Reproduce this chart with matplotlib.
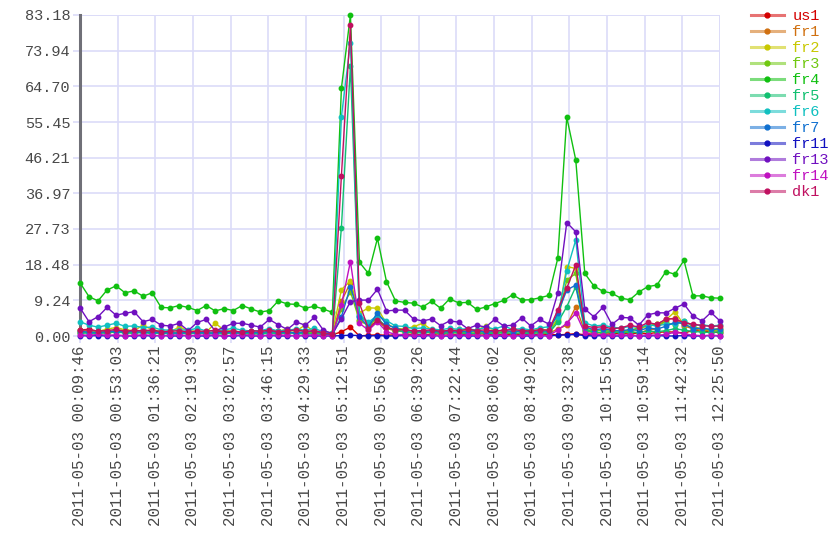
import matplotlib
matplotlib.use('Agg')
import matplotlib.pyplot as plt
from matplotlib.lines import Line2D
import numpy as np

# 横轴标签 (每 18 个刻度一个)
tick_labels = ['2011-05-03 00:09:46', '2011-05-03 00:53:03', '2011-05-03 01:36:21',
               '2011-05-03 02:19:39', '2011-05-03 03:02:57', '2011-05-03 03:46:15',
               '2011-05-03 04:29:33', '2011-05-03 05:12:51', '2011-05-03 05:56:09',
               '2011-05-03 06:39:26', '2011-05-03 07:22:44', '2011-05-03 08:06:02',
               '2011-05-03 08:49:20', '2011-05-03 09:32:38', '2011-05-03 10:15:56',
               '2011-05-03 10:59:14', '2011-05-03 11:42:32', '2011-05-03 12:25:50']

names = ['us1', 'fr1', 'fr2', 'fr3', 'fr4', 'fr5', 'fr6', 'fr7', 'fr11', 'fr13', 'fr14', 'dk1']
colors = ['#d40000', '#d07010', '#c8c800', '#70c810', '#10c010', '#10c070',
          '#10c0c0', '#1070d0', '#1010c0', '#7010c0', '#c010c0', '#c01060']

us1 = [1.6, 1.7, 1.2, 1.0, 1.3, 1.6, 1.1, 1.5, 1.3, 1.2,
       0.9, 0.8, 1.2, 1.0, 0.8, 1.1, 1.3, 0.9, 0.8, 1.0,
       0.9, 1.1, 1.2, 0.8, 1.0, 0.9, 0.7, 0.5, 0.3, 1.1,
       2.3, 0.0, 0.2, 0.3, 0.2, 0.3, 0.4, 0.5, 0.3, 0.4,
       0.6, 0.5, 0.3, 0.4, 0.6, 0.5, 0.4, 0.3, 0.5, 0.4,
       0.3, 0.5, 0.4, 0.3, 0.4, 0.6, 0.3, 0.5, 0.4, 0.6,
       0.7, 0.5, 0.8, 0.6, 0.9, 1.1, 1.0, 0.8, 1.4, 1.3,
       1.0, 0.9]
fr1 = [0.8, 1.0, 0.9, 0.7, 1.1, 0.9, 0.8, 1.2, 0.7, 0.9,
       0.6, 0.7, 0.8, 0.9, 0.6, 0.8, 0.7, 0.9, 0.6, 0.5,
       0.7, 0.8, 0.6, 0.9, 0.7, 0.6, 0.8, 0.5, 0.3, 9.0,
       13.8, 4.2, 2.6, 3.8, 2.0, 1.3, 1.1, 0.9, 1.0, 0.8,
       0.7, 0.9, 0.8, 0.6, 0.8, 0.7, 0.9, 0.8, 0.6, 0.7,
       0.9, 0.8, 0.7, 1.8, 2.8, 7.6, 1.2, 0.9, 0.8, 1.0,
       0.9, 1.1, 0.8, 1.5, 1.9, 4.3, 4.6, 2.7, 1.8, 1.5,
       1.4, 1.2]
fr2 = [1.5, 1.3, 1.2, 1.8, 2.2, 1.6, 1.4, 2.8, 1.6, 1.3,
       1.1, 2.3, 1.4, 1.2, 1.0, 3.3, 1.5, 1.2, 1.1, 1.3,
       1.4, 1.6, 1.2, 1.9, 1.3, 2.9, 1.0, 1.2, 0.8, 12.0,
       14.3, 5.9, 7.3, 7.2, 3.2, 2.0, 1.8, 2.4, 3.3, 1.6,
       1.2, 1.4, 1.7, 1.3, 1.5, 2.6, 1.4, 1.2, 1.0, 1.6,
       1.3, 1.8, 1.5, 4.5, 18.0, 17.5, 2.0, 1.6, 1.4, 1.2,
       1.5, 1.3, 1.9, 2.6, 3.1, 4.2, 6.3, 2.9, 2.2, 1.8,
       1.6, 2.0]
fr3 = [1.0, 0.9, 1.1, 1.3, 1.2, 1.0, 0.9, 1.4, 1.1, 0.8,
       0.9, 1.0, 0.8, 1.1, 0.9, 0.8, 1.0, 1.2, 0.9, 0.8,
       0.7, 1.0, 0.9, 1.1, 0.8, 1.0, 0.9, 0.7, 0.4, 7.0,
       11.5, 4.0, 2.8, 4.5, 2.2, 1.5, 1.2, 1.1, 1.3, 1.0,
       0.9, 1.1, 1.0, 0.8, 1.2, 1.0, 0.9, 1.1, 1.3, 1.0,
       0.9, 1.2, 1.0, 4.0, 14.5, 16.2, 1.6, 1.3, 1.5, 1.2,
       1.0, 1.4, 2.2, 2.6, 3.2, 3.5, 2.8, 4.0, 2.4, 1.8,
       1.6, 1.5]
fr4 = [13.8, 10.2, 9.1, 11.9, 13.0, 11.2, 11.7, 10.3, 11.2, 7.4,
       7.3, 7.9, 7.4, 6.6, 7.9, 6.5, 7.1, 6.6, 7.9, 7.0,
       6.2, 6.6, 9.1, 8.3, 8.2, 7.2, 7.7, 7.0, 6.1, 64.2,
       83.18, 19.1, 16.2, 25.3, 14.1, 9.1, 8.7, 8.5, 7.5, 9.0,
       7.2, 9.6, 8.6, 8.7, 6.9, 7.5, 8.4, 9.2, 10.7, 9.3,
       9.4, 9.9, 10.5, 20.1, 56.7, 45.6, 16.2, 13.0, 11.6, 11.1,
       9.8, 9.4, 11.4, 12.8, 13.2, 16.7, 16.0, 19.6, 10.4, 10.4,
       9.9, 9.8]
fr5 = [0.7, 0.8, 0.6, 0.9, 1.0, 0.8, 0.7, 0.9, 0.6, 0.8,
       0.5, 0.7, 0.6, 0.8, 0.7, 0.5, 0.6, 0.8, 0.7, 0.6,
       0.5, 0.7, 0.6, 0.8, 0.7, 0.5, 0.6, 0.4, 0.2, 28.1,
       70.0, 5.2, 3.4, 4.6, 2.3, 1.4, 1.1, 0.9, 0.8, 1.0,
       0.7, 0.8, 0.9, 0.6, 0.7, 0.8, 0.6, 0.9, 0.7, 0.8,
       0.6, 0.9, 0.7, 3.5, 7.6, 12.8, 1.5, 1.0, 0.9, 1.1,
       0.8, 1.0, 0.9, 1.3, 1.1, 1.4, 1.9, 1.5, 1.2, 1.0,
       0.9, 1.1]
fr6 = [3.7, 2.8, 2.3, 2.8, 3.3, 2.5, 2.6, 2.2, 2.3, 1.6,
       1.5, 1.6, 1.5, 2.0, 1.3, 1.4, 1.6, 2.0, 1.5, 1.3,
       1.4, 1.9, 1.3, 1.5, 1.8, 1.5, 2.0, 1.0, 0.8, 56.8,
       76.0, 5.5, 3.6, 5.3, 4.0, 2.6, 2.5, 1.9, 2.1, 1.8,
       1.6, 2.0, 1.7, 1.9, 1.5, 2.3, 1.8, 2.6, 1.7, 1.9,
       1.6, 2.1, 2.4, 5.0, 16.9, 24.9, 3.4, 2.6, 2.8, 2.3,
       2.0, 2.5, 2.2, 2.9, 2.6, 3.1, 3.0, 3.9, 2.7, 2.9,
       2.6, 2.8]
fr7 = [1.2, 1.0, 0.9, 1.1, 1.3, 1.0, 1.2, 0.9, 1.1, 0.8,
       0.9, 0.7, 1.0, 0.8, 0.9, 0.7, 1.1, 0.8, 0.9, 1.0,
       0.8, 1.2, 0.9, 1.0, 0.8, 1.1, 1.3, 0.6, 0.3, 5.0,
       12.8, 5.0, 2.4, 6.0, 3.0, 2.0, 1.5, 1.3, 1.1, 1.4,
       1.0, 1.2, 1.3, 1.1, 1.4, 1.0, 1.2, 1.5, 1.1, 1.3,
       1.0, 1.4, 1.2, 5.9, 11.9, 13.2, 2.4, 1.6, 1.9, 1.5,
       1.3, 1.7, 1.4, 2.1, 1.8, 2.5, 3.6, 3.2, 1.9, 2.0,
       1.7, 1.8]
fr11 = [0.1, 0.0, 0.1, 0.0, 0.1, 0.0, 0.0, 0.1, 0.0, 0.1,
        0.0, 0.0, 0.1, 0.0, 0.0, 0.1, 0.0, 0.0, 0.1, 0.0,
        0.0, 0.1, 0.0, 0.0, 0.1, 0.0, 0.0, 0.0, 0.0, 0.1,
        0.2, 0.1, 0.0, 0.1, 0.0, 0.0, 0.1, 0.0, 0.0, 0.1,
        0.0, 0.0, 0.1, 0.0, 0.0, 0.1, 0.0, 0.0, 0.1, 0.0,
        0.0, 0.1, 0.0, 0.2, 0.3, 0.4, 0.1, 0.0, 0.1, 0.0,
        0.0, 0.1, 0.0, 0.0, 0.1, 0.0, 0.0, 0.1, 0.0, 0.0,
        0.1, 0.0]
fr13 = [7.3, 3.7, 5.0, 7.4, 5.4, 5.9, 6.3, 3.7, 4.3, 2.8,
        2.6, 3.3, 1.4, 3.5, 4.3, 1.3, 2.3, 3.3, 3.3, 2.8,
        2.3, 4.3, 2.9, 1.7, 3.6, 2.8, 4.8, 1.5, 0.6, 4.5,
        8.9, 9.3, 9.3, 12.1, 6.5, 6.7, 6.7, 4.4, 3.9, 4.4,
        2.7, 3.9, 3.6, 1.9, 2.8, 2.3, 4.3, 2.6, 2.8, 4.7,
        2.6, 4.3, 3.1, 11.1, 29.4, 27.0, 7.0, 5.0, 7.4, 3.0,
        4.8, 4.7, 2.8, 5.5, 6.0, 6.0, 7.2, 8.3, 5.2, 3.9,
        6.1, 3.9]
fr14 = [0.3, 0.2, 0.4, 0.2, 0.3, 0.1, 0.2, 0.3, 0.2, 0.1,
        0.2, 0.3, 0.1, 0.2, 0.3, 0.2, 0.1, 0.2, 0.3, 0.2,
        0.1, 0.2, 0.3, 0.2, 0.1, 0.2, 0.3, 0.1, 0.1, 8.0,
        19.3, 3.3, 1.5, 3.7, 1.1, 0.4, 0.3, 0.2, 0.3, 0.2,
        0.1, 0.2, 0.3, 0.2, 0.2, 0.1, 0.3, 0.2, 0.1, 0.2,
        0.3, 0.2, 0.1, 1.5, 3.3, 5.9, 0.8, 0.4, 0.3, 0.2,
        0.3, 0.2, 0.1, 0.3, 0.2, 0.4, 1.0, 0.6, 0.2, 0.1,
        0.2, 0.1]
dk1 = [1.5, 1.6, 1.3, 1.4, 1.7, 1.2, 1.5, 1.3, 1.6, 1.1,
       1.2, 1.4, 1.0, 1.3, 1.2, 1.5, 1.1, 1.3, 1.0, 1.4,
       1.2, 1.5, 1.1, 1.3, 1.6, 1.2, 1.4, 0.8, 0.4, 41.5,
       80.5, 8.5, 1.8, 4.2, 2.3, 1.5, 1.7, 1.3, 1.4, 1.6,
       1.2, 1.5, 1.3, 1.8, 1.4, 1.6, 1.3, 1.5, 1.7, 1.4,
       1.3, 1.6, 1.5, 6.7, 12.4, 18.4, 2.6, 2.2, 2.4, 1.9,
       2.1, 2.8, 2.3, 3.5, 3.0, 4.4, 4.5, 3.4, 3.1, 2.7,
       2.5, 2.6]

series = [us1, fr1, fr2, fr3, fr4, fr5, fr6, fr7, fr11, fr13, fr14, dk1]
y_max = 83.18

FONT = 'Liberation Mono'
TEXT_COLOR = '#484848'
GRID_COLOR = '#dcdcf8'

fig = plt.figure(figsize=(8.4, 5.6), dpi=100)
ax = fig.add_axes([80 / 840, 1 - 336 / 560, 640 / 840, 321 / 560])

x = np.arange(len(fr4))
for vals, c in zip(series, colors):
    ax.plot(x, vals, color=c, lw=1.0, marker='o', ms=3.2, mec=c, mfc=c, clip_on=False, zorder=3)

ax.set_xlim(0, len(fr4) - 1)
ax.set_ylim(0, y_max)

yt = np.linspace(0, y_max, 10)
ax.set_yticks(yt)
ax.set_yticklabels(['%.2f' % v for v in yt], fontfamily=FONT, fontsize=11, color=TEXT_COLOR)
ax.set_xticks(np.linspace(0, len(fr4) - 1, len(tick_labels)))
ax.set_xticklabels(tick_labels, rotation=90, fontfamily=FONT, fontsize=11.3, color=TEXT_COLOR)
ax.tick_params(axis='both', color=GRID_COLOR, length=5, width=1.2, pad=2)

ax.grid(True, color=GRID_COLOR, lw=1.2, zorder=0)
ax.set_axisbelow(True)
for side in ['top', 'right', 'bottom']:
    ax.spines[side].set_visible(False)
ax.spines['left'].set_color('#707078')
ax.spines['left'].set_linewidth(2.2)
ax.axhline(y_max, color=GRID_COLOR, lw=1.2, zorder=0)
ax.axvline(len(fr4) - 1, color=GRID_COLOR, lw=1.2, zorder=0)


# 图例：线条颜色偏浅，中间是深色圆点
def lighten(hexcol, amount=0.45):
    rgb = np.array(matplotlib.colors.to_rgb(hexcol))
    return tuple(rgb + (1 - rgb) * amount)


handles = [Line2D([], [], color=lighten(c), lw=2.2, marker='o', ms=3.5, mfc=c, mec=c) for c in colors]
leg = fig.legend(handles, names, loc='upper left', bbox_to_anchor=(751 / 840, 1 - 9 / 560),
                 frameon=False, borderpad=0, borderaxespad=0, handlelength=2.15,
                 handletextpad=0.55, labelspacing=0.13,
                 prop={'family': FONT, 'size': 11})
for t, c in zip(leg.get_texts(), colors):
    t.set_color(c)

fig.savefig('out.png', dpi=100)
